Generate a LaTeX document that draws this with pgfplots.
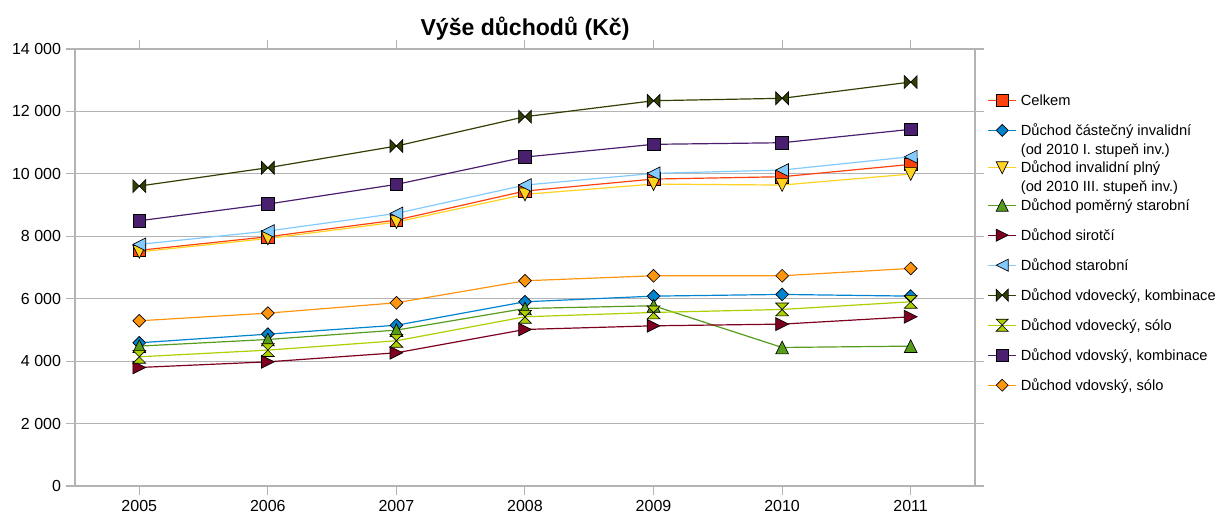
\documentclass[border=0pt]{standalone}
\usepackage{fontspec}
\setmainfont{Liberation Sans}
\usepackage{pgfplots}
\pgfplotsset{compat=1.18}

\definecolor{gridgray}{HTML}{B3B3B3}
\definecolor{c1}{HTML}{FF420E}
\definecolor{c2}{HTML}{0084D1}
\definecolor{c3}{HTML}{FFD320}
\definecolor{c4}{HTML}{579D1C}
\definecolor{c5}{HTML}{7E0021}
\definecolor{c6}{HTML}{83CAFF}
\definecolor{c7}{HTML}{314004}
\definecolor{c8}{HTML}{AECF00}
\definecolor{c9}{HTML}{4B1F6F}
\definecolor{c10}{HTML}{FF950E}

% symbols in the style of the office chart
\pgfdeclareplotmark{lsquare}{%
  \pgfpathrectangle{\pgfqpoint{-\pgfplotmarksize}{-\pgfplotmarksize}}{\pgfqpoint{2\pgfplotmarksize}{2\pgfplotmarksize}}%
  \pgfusepathqfillstroke}
\pgfdeclareplotmark{ldiamond}{%
  \pgfpathmoveto{\pgfqpoint{0pt}{\pgfplotmarksize}}%
  \pgfpathlineto{\pgfqpoint{\pgfplotmarksize}{0pt}}%
  \pgfpathlineto{\pgfqpoint{0pt}{-\pgfplotmarksize}}%
  \pgfpathlineto{\pgfqpoint{-\pgfplotmarksize}{0pt}}%
  \pgfpathclose\pgfusepathqfillstroke}
\pgfdeclareplotmark{ltriup}{%
  \pgfpathmoveto{\pgfqpoint{0pt}{\pgfplotmarksize}}%
  \pgfpathlineto{\pgfqpoint{\pgfplotmarksize}{-\pgfplotmarksize}}%
  \pgfpathlineto{\pgfqpoint{-\pgfplotmarksize}{-\pgfplotmarksize}}%
  \pgfpathclose\pgfusepathqfillstroke}
\pgfdeclareplotmark{ltridown}{%
  \pgfpathmoveto{\pgfqpoint{0pt}{-\pgfplotmarksize}}%
  \pgfpathlineto{\pgfqpoint{\pgfplotmarksize}{\pgfplotmarksize}}%
  \pgfpathlineto{\pgfqpoint{-\pgfplotmarksize}{\pgfplotmarksize}}%
  \pgfpathclose\pgfusepathqfillstroke}
\pgfdeclareplotmark{ltriright}{%
  \pgfpathmoveto{\pgfqpoint{\pgfplotmarksize}{0pt}}%
  \pgfpathlineto{\pgfqpoint{-\pgfplotmarksize}{\pgfplotmarksize}}%
  \pgfpathlineto{\pgfqpoint{-\pgfplotmarksize}{-\pgfplotmarksize}}%
  \pgfpathclose\pgfusepathqfillstroke}
\pgfdeclareplotmark{ltrileft}{%
  \pgfpathmoveto{\pgfqpoint{-\pgfplotmarksize}{0pt}}%
  \pgfpathlineto{\pgfqpoint{\pgfplotmarksize}{\pgfplotmarksize}}%
  \pgfpathlineto{\pgfqpoint{\pgfplotmarksize}{-\pgfplotmarksize}}%
  \pgfpathclose\pgfusepathqfillstroke}
\pgfdeclareplotmark{bowtie}{%
  \pgfpathmoveto{\pgfqpoint{-\pgfplotmarksize}{\pgfplotmarksize}}%
  \pgfpathlineto{\pgfqpoint{0pt}{0pt}}%
  \pgfpathlineto{\pgfqpoint{-\pgfplotmarksize}{-\pgfplotmarksize}}%
  \pgfpathclose
  \pgfpathmoveto{\pgfqpoint{\pgfplotmarksize}{\pgfplotmarksize}}%
  \pgfpathlineto{\pgfqpoint{0pt}{0pt}}%
  \pgfpathlineto{\pgfqpoint{\pgfplotmarksize}{-\pgfplotmarksize}}%
  \pgfpathclose\pgfusepathqfillstroke}
\pgfdeclareplotmark{hourglass}{%
  \pgfpathmoveto{\pgfqpoint{-\pgfplotmarksize}{\pgfplotmarksize}}%
  \pgfpathlineto{\pgfqpoint{\pgfplotmarksize}{\pgfplotmarksize}}%
  \pgfpathlineto{\pgfqpoint{0pt}{0pt}}%
  \pgfpathclose
  \pgfpathmoveto{\pgfqpoint{-\pgfplotmarksize}{-\pgfplotmarksize}}%
  \pgfpathlineto{\pgfqpoint{\pgfplotmarksize}{-\pgfplotmarksize}}%
  \pgfpathlineto{\pgfqpoint{0pt}{0pt}}%
  \pgfpathclose\pgfusepathqfillstroke}

% legend texts: baseline of the first line is the row's baseline
\newcommand{\lgone}[1]{\raisebox{0pt}[9.5pt][1.7pt]{#1}}
\newcommand{\lgtwo}[2]{\raisebox{0pt}[9.5pt][1.7pt]{\vtop{\hbox{#1}\hbox{#2}}}}

\pgfplotsset{
    sym/.style={#1, mark options={draw=black, fill=#1, line width=0.5pt}},
    % legend symbol; the argument is how far the row reaches below the baseline
    limg/.style={legend image code/.code={%
        \pgfpathrectangle{\pgfpoint{0pt}{-#1}}{\pgfpoint{21pt}{#1+11.5pt}}%
        \pgfusepath{use as bounding box}%
        \draw[mark repeat=2, mark phase=2, mark size=4.5pt]
            plot coordinates {(0pt,3.9pt) (10.5pt,3.9pt) (21pt,3.9pt)};}},
}

\begin{document}
\begin{tikzpicture}
\useasboundingbox (-56.25pt,-21pt) rectangle (856.5pt,364.5pt);
\begin{axis}[
    scale only axis,
    width=675pt,
    height=327.75pt,
    xmin=2004.5, xmax=2011.5,
    ymin=0, ymax=14000,
    xtick={2005,...,2011},
    ytick={0,2000,...,14000},
    scaled y ticks=false,
    tick align=outside,
    major tick length=7pt,
    axis line style={gridgray, line width=0.8pt},
    tick style={gridgray, line width=0.8pt},
    ymajorgrids,
    grid style={gridgray, line width=0.8pt},
    /pgf/number format/assume math mode=true,
    tick label style={font=\fontsize{12}{14}\selectfont},
    x tick label style={/pgf/number format/1000 sep={}},
    y tick label style={/pgf/number format/1000 sep={\ }},
    title={Výše důchodů (Kč)},
    every axis title shift=0pt,
    title style={font=\bfseries\fontsize{17.3}{20}\selectfont, anchor=base, at={(0.5,1)}, yshift=9.75pt},
    every axis plot/.append style={line width=0.9pt, mark size=4.8pt},
    legend style={draw=none, fill=none, inner sep=0pt, at={(1.0144,0.9064)}, anchor=north west,
        font=\fontsize{11}{14}\selectfont, row sep=7pt,
        cells={anchor=base west},
        nodes={inner xsep=3.5pt, inner ysep=2pt}},
    limg=4pt,
]
\addplot[sym=c1, mark=lsquare] coordinates {
    (2005,7550) (2006,7985) (2007,8519) (2008,9449) (2009,9833) (2010,9908) (2011,10303)};
\addlegendentry{\lgone{Celkem}}
\addplot[sym=c2, mark=ldiamond, limg=9.6pt] coordinates {
    (2005,4588) (2006,4865) (2007,5150) (2008,5902) (2009,6083) (2010,6137) (2011,6083)};
\addlegendentry{\lgtwo{Důchod částečný invalidní}{(od 2010 I. stupeň inv.)}}
\addplot[sym=c3, mark=ltridown, limg=9.6pt] coordinates {
    (2005,7500) (2006,7930) (2007,8455) (2008,9343) (2009,9673) (2010,9641) (2011,9994)};
\addlegendentry{\lgtwo{Důchod invalidní plný}{(od 2010 III. stupeň inv.)}}
\addplot[sym=c4, mark=ltriup] coordinates {
    (2005,4481) (2006,4694) (2007,4994) (2008,5688) (2009,5774) (2010,4438) (2011,4481)};
\addlegendentry{\lgone{Důchod poměrný starobní}}
\addplot[sym=c5, mark=ltriright] coordinates {
    (2005,3797) (2006,3978) (2007,4267) (2008,5015) (2009,5132) (2010,5186) (2011,5421)};
\addlegendentry{\lgone{Důchod sirotčí}}
\addplot[sym=c6, mark=ltrileft] coordinates {
    (2005,7740) (2006,8167) (2007,8733) (2008,9641) (2009,10015) (2010,10122) (2011,10549)};
\addlegendentry{\lgone{Důchod starobní}}
\addplot[sym=c7, mark=bowtie] coordinates {
    (2005,9609) (2006,10196) (2007,10891) (2008,11831) (2009,12343) (2010,12420) (2011,12942)};
\addlegendentry{\lgone{Důchod vdovecký, kombinace}}
\addplot[sym=c8, mark=hourglass] coordinates {
    (2005,4139) (2006,4353) (2007,4652) (2008,5421) (2009,5560) (2010,5656) (2011,5902)};
\addlegendentry{\lgone{Důchod vdovecký, sólo}}
\addplot[sym=c9, mark=lsquare] coordinates {
    (2005,8497) (2006,9032) (2007,9663) (2008,10538) (2009,10946) (2010,10997) (2011,11426)};
\addlegendentry{\lgone{Důchod vdovský, kombinace}}
\addplot[sym=c10, mark=ldiamond] coordinates {
    (2005,5293) (2006,5538) (2007,5870) (2008,6575) (2009,6735) (2010,6735) (2011,6970)};
\addlegendentry{\lgone{Důchod vdovský, sólo}}
\end{axis}
\end{tikzpicture}
\end{document}
